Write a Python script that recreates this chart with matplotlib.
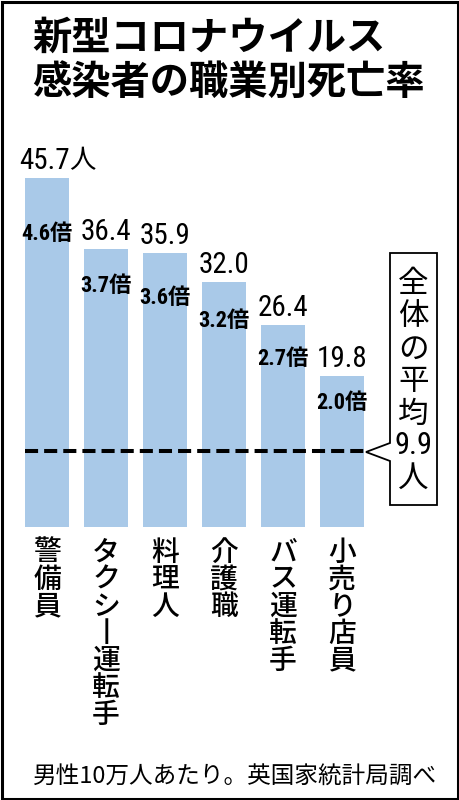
import matplotlib
matplotlib.use("Agg")
import matplotlib.pyplot as plt
from matplotlib import font_manager
from matplotlib.patches import Rectangle, Polygon
import matplotlib.transforms as mtransforms

plt.rcParams['font.family'] = ['Noto Sans CJK JP', 'DejaVu Sans']

# データ
jobs = ["警備員", "タクシー運転手", "料理人", "介護職", "バス運転手", "小売り店員"]
rates = [45.7, 36.4, 35.9, 32.0, 26.4, 19.8]
ratios = [4.6, 3.7, 3.6, 3.2, 2.7, 2.0]
average = 9.9
title_lines = ["新型コロナウイルス", "感染者の職業別死亡率"]
note = "男性10万人あたり。英国家統計局調べ"

names = {f.name for f in font_manager.fontManager.ttflist}


def pick(cands):
    for c in cands:
        if c in names:
            return c
    return cands[-1]


narrow = pick(['Roboto Condensed', 'Archivo Narrow', 'PT Sans Narrow',
               'Liberation Sans Narrow', 'Liberation Sans'])
num_fam = [narrow, 'Noto Sans CJK JP']

W, H = 459, 800
fig = plt.figure(figsize=(W / 100, H / 100), dpi=100)


def px(x, y):
    return (x / W, 1 - y / H)


# 外枠
fig.patches.append(Rectangle(px(1.5, 798.5), (W - 3) / W, (H - 3) / H,
                             transform=fig.transFigure, fill=False,
                             edgecolor='black', linewidth=2.2))

# タイトル
fig.text(*px(32, 38), title_lines[0], fontsize=28.3, fontweight='bold',
         va='center', ha='left')
fig.text(*px(32, 82), title_lines[1], fontsize=28.3, fontweight='bold',
         va='center', ha='left')

# 棒グラフ
scale = 7.645  # px per 人
ax = fig.add_axes([17.5 / W, (H - 527) / H, 413 / W, 407 / H])
ax.set_xlim(-0.5, 6.5)
ax.set_ylim(0, 407 / scale)
ax.axis('off')
x = list(range(len(jobs)))
bw = 0.73
ax.bar(x, rates, width=bw, color='#a9c9e8', zorder=1)

# 平均の破線
ax.plot([-bw / 2, len(jobs) - 1 + bw / 2], [average, average], color='black',
        linewidth=2.9, linestyle=(0, (13 / 4, 6 / 4)), zorder=2,
        solid_capstyle='butt', dash_capstyle='butt')

# 数値ラベル
inner_off = [56, 37, 45, 39, 34, 27]
for i, (v, r) in enumerate(zip(rates, ratios)):
    dx = -3 if i == 0 else 0
    ax.annotate(f"{v:.1f}", (i, v), xytext=(dx, 3), textcoords='offset pixels',
                ha='center', va='bottom', fontsize=21, family=num_fam)
    if i == 0:
        ax.annotate("人", (i, v), xytext=(22, 3), textcoords='offset pixels',
                    ha='left', va='bottom', fontsize=19)
    ax.annotate(f"{r:.1f}倍", (i, v), xytext=(0, -inner_off[i]),
                textcoords='offset pixels', ha='center', va='center',
                fontsize=16, fontweight='bold', family=num_fam)

# 職業名（縦書き）
tr = mtransforms.blended_transform_factory(ax.transData, fig.transFigure)
for i, name in enumerate(jobs):
    for k, ch in enumerate(name.replace("ー", "丨")):
        ax.text(i, 1 - (552 + 27 * k) / H, ch, transform=tr, ha='center',
                va='center', fontsize=20, fontweight='medium', clip_on=False)

# 吹き出し
bx0, bx1, by0, by1 = 390, 437, 253, 505
call = [px(bx0, by0), px(bx1, by0), px(bx1, by1), px(bx0, by1),
        px(bx0, 461), px(366, 452), px(bx0, 443)]
fig.patches.append(Polygon(call, closed=True, transform=fig.transFigure,
                           facecolor='white', edgecolor='black', linewidth=1.3))
cx = (bx0 + bx1) / 2
for k, ch in enumerate("全体の平均"):
    fig.text(*px(cx, 284 + 32.5 * k), ch, ha='center', va='center', fontsize=22)
fig.text(*px(cx, 446), f"{average:.1f}", ha='center', va='center',
         fontsize=22, family=num_fam)
fig.text(*px(cx, 478), "人", ha='center', va='center', fontsize=22)

# 注記
fig.text(*px(33, 777), note, ha='left', va='center', fontsize=17)

fig.savefig("out.png", dpi=100)
